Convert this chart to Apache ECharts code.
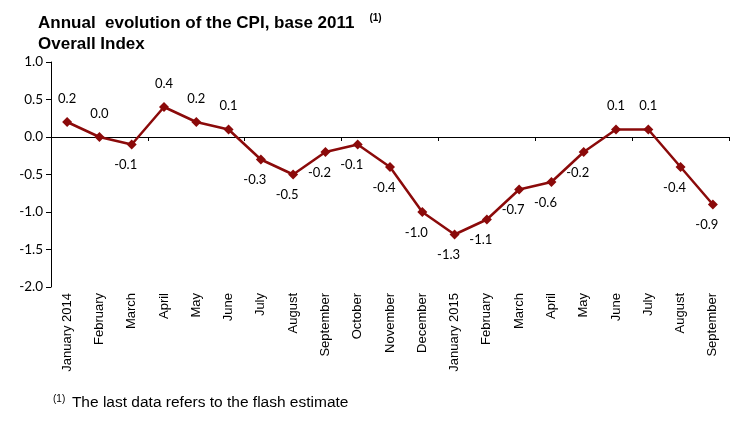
<!DOCTYPE html>
<html>
<head>
<meta charset="utf-8">
<script src="https://cdn.jsdelivr.net/npm/echarts@6/dist/echarts.min.js"></script>
<style>
html, body { margin: 0; padding: 0; background: #fff; }
#chart { width: 750px; height: 424px; }
</style>
</head>
<body>
<div id="chart"></div>
<script>
var months = ['January 2014', 'February', 'March', 'April', 'May', 'June', 'July', 'August',
    'September', 'October', 'November', 'December', 'January 2015', 'February', 'March',
    'April', 'May', 'June', 'July', 'August', 'September'];
var cpi = [0.2, 0.0, -0.1, 0.4, 0.2, 0.1, -0.3, -0.5, -0.2, -0.1, -0.4, -1.0, -1.3, -1.1,
    -0.7, -0.6, -0.2, 0.1, 0.1, -0.4, -0.9];

var red = '#8B0A0A';

echarts.init(document.getElementById('chart')).setOption({
    animation: false,
    title: {
        left: 33,
        top: 8,
        text: '{t|Annual  evolution of the CPI, base 2011}   {s|(1)}\n{t|Overall Index}',
        textStyle: {
            rich: {
                t: { fontFamily: 'Liberation Sans', fontWeight: 'bold', fontSize: 17, color: '#000', lineHeight: 21 },
                s: { fontFamily: 'Liberation Sans', fontWeight: 'bold', fontSize: 10, color: '#000', verticalAlign: 'top', padding: [0, 0, 8, 0] }
            }
        }
    },
    graphic: [{
        type: 'text',
        left: 53,
        top: 394,
        style: {
            text: '{s|(1)}  {t|The last data refers to the flash estimate}',
            rich: {
                t: { fontFamily: 'Liberation Sans', fontSize: 15.5, fill: '#000' },
                s: { fontFamily: 'Liberation Sans', fontSize: 10, fill: '#000', padding: [0, 0, 8, 0] }
            }
        }
    }],
    grid: { left: 51, right: 21, top: 62, bottom: 137 },
    xAxis: [{
        type: 'category',
        data: months,
        position: 'bottom',
        axisLine: { onZero: true, lineStyle: { color: '#000', width: 1 } },
        axisTick: { show: true, length: 4, lineStyle: { color: '#000' } },
        axisLabel: { show: false }
    }, {
        type: 'category',
        data: months,
        position: 'bottom',
        axisLine: { show: false, onZero: false },
        axisTick: { show: false },
        axisLabel: {
            rotate: 90,
            margin: 6,
            interval: 0,
            fontFamily: 'Liberation Sans',
            fontSize: 13,
            color: '#000'
        }
    }],
    yAxis: {
        type: 'value',
        min: -2,
        max: 1,
        interval: 0.5,
        splitLine: { show: false },
        axisLine: { show: true, lineStyle: { color: '#000', width: 1 } },
        axisTick: { show: true, length: 5, lineStyle: { color: '#000' } },
        axisLabel: {
            formatter: function (v) { return v.toFixed(1); },
            fontFamily: 'Lato',
            fontSize: 13.5,
            color: '#000',
            margin: 8
        }
    },
    series: [{
        type: 'line',
        xAxisIndex: 0,
        data: cpi.map(function (v) {
            return {
                value: v,
                label: v >= 0 ? { position: 'top', offset: [0, -7] } : { position: 'bottom', offset: [-6, 4] }
            };
        }),
        symbol: 'diamond',
        symbolSize: 10,
        lineStyle: { color: red, width: 2.5 },
        itemStyle: { color: red },
        label: {
            show: true,
            formatter: function (p) { return p.value.toFixed(1); },
            fontFamily: 'Lato',
            fontSize: 13,
            color: '#000'
        }
    }]
});
</script>
</body>
</html>
